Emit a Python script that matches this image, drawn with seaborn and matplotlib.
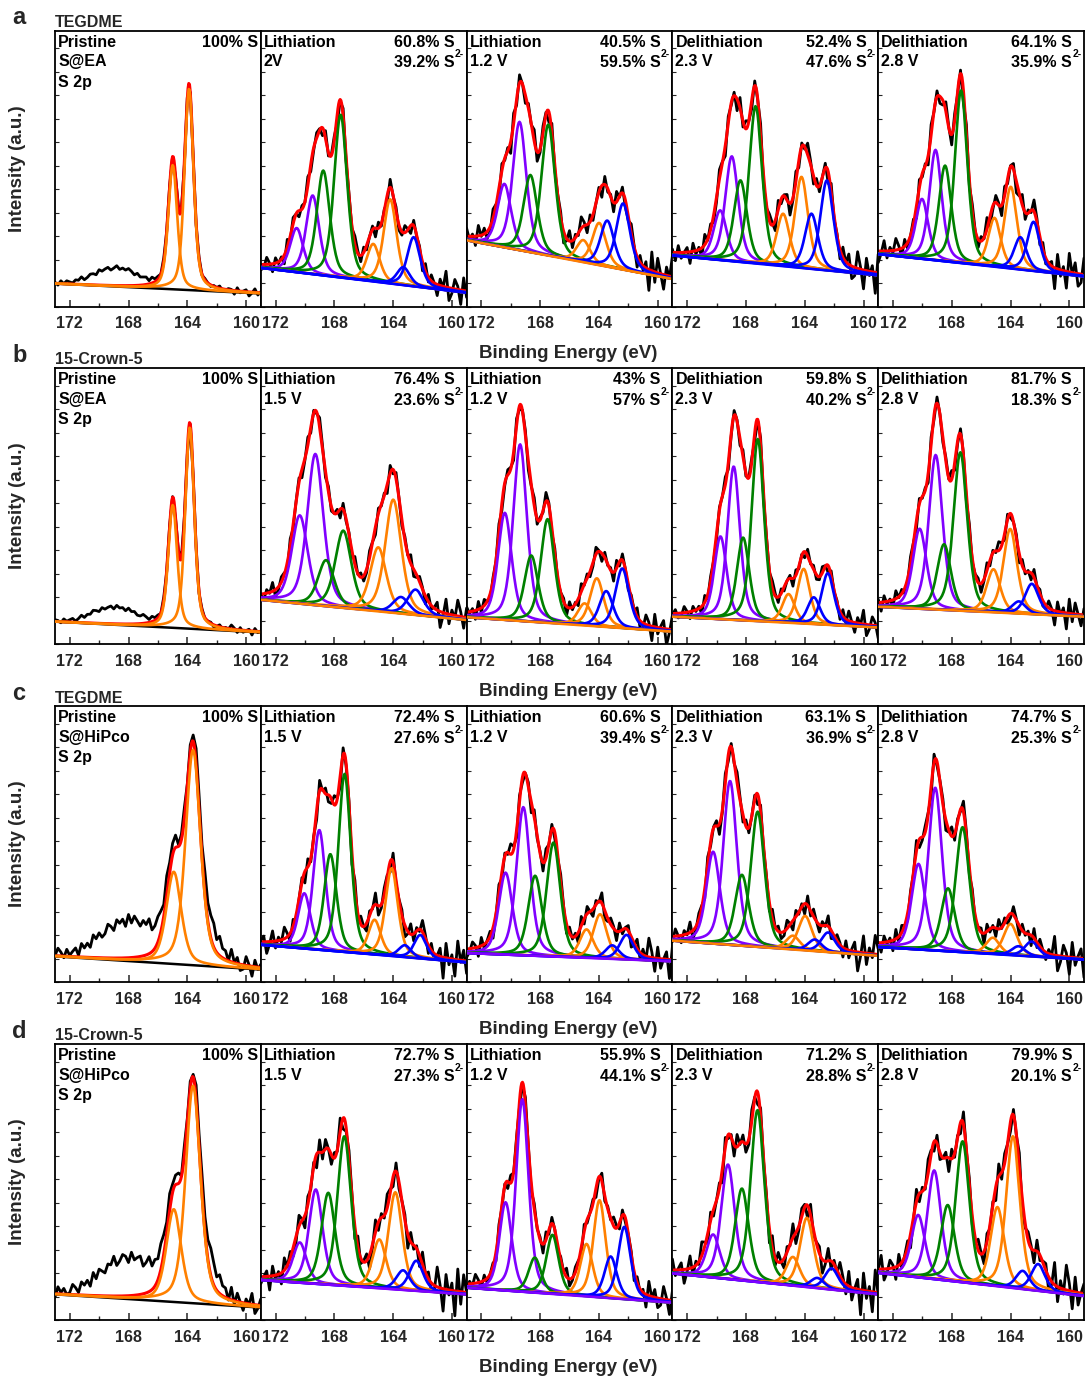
import numpy as np
import matplotlib
matplotlib.use('Agg')
import matplotlib.pyplot as plt
import seaborn as sns
from matplotlib.ticker import FixedLocator, MultipleLocator

# binding energy grids (eV): fine one for the fits, measured step for the raw spectra
energy = np.round(np.arange(159.0, 173.001, 0.05), 3)
energy_raw = np.round(np.arange(159.0, 173.001, 0.2), 2)

PURPLE, GREEN, ORANGE, BLUE, RED = '#8000FF', '#008000', '#FF8000', '#0000FF', '#FF0000'
comp_colors = [PURPLE, PURPLE, GREEN, GREEN, ORANGE, ORANGE, BLUE, BLUE]

row_letters = ['a', 'b', 'c', 'd']
electrolytes = ['TEGDME', '15-Crown-5', 'TEGDME', '15-Crown-5']
hosts = ['S@EA', 'S@EA', 'S@HiPco', 'S@HiPco']
stages = ['Lithiation', 'Lithiation', 'Delithiation', 'Delithiation']
voltages = [['2V', '1.2 V', '2.3 V', '2.8 V'],
            ['1.5 V', '1.2 V', '2.3 V', '2.8 V'],
            ['1.5 V', '1.2 V', '2.3 V', '2.8 V'],
            ['1.5 V', '1.2 V', '2.3 V', '2.8 V']]
s_pct = [['60.8', '40.5', '52.4', '64.1'],
         ['76.4', '43', '59.8', '81.7'],
         ['72.4', '60.6', '63.1', '74.7'],
         ['72.7', '55.9', '71.2', '79.9']]
s2_pct = [['39.2', '59.5', '47.6', '35.9'],
          ['23.6', '57', '40.2', '18.3'],
          ['27.6', '39.4', '36.9', '25.3'],
          ['27.3', '44.1', '28.8', '20.1']]

# pristine S 2p doublet (S 2p1/2, S 2p3/2)
pristine_centers = [[164.99, 163.88], [164.99, 163.83], [164.92, 163.61], [164.92, 163.61]]
pristine_heights = [[45, 73], [44.5, 73], [33.4, 78], [33.6, 78.8]]
pristine_fwhm = [0.72, 0.72, 1.2, 1.2]
pristine_bg = [(8.3, 4.7), (8.1, 4.2), (9.3, 4.5), (9.3, 4.5)]
# unfitted features in the measured pristine spectra (center, height, fwhm)
pristine_hump = [(168.9, 6.5, 3.5), (168.95, 6.2, 3.5), (168.0, 13.7, 4.5), (168.0, 14.0, 4.5)]
pristine_tail = [(162.4, 0, 1.6), (162.4, 0, 1.6), (162.4, 8, 1.6), (162.4, 8, 1.6)]

# cycled electrodes: components purple x2, green x2, orange x2, blue x2
centers = [
    [[170.56, 169.47, 168.75, 167.57, 165.35, 164.2, 163.3, 162.6],
     [170.43, 169.4, 168.66, 167.44, 165.06, 163.98, 163.43, 162.35],
     [169.75, 168.96, 168.37, 167.34, 165.47, 164.22, 163.54, 162.49],
     [170.02, 169.1, 168.45, 167.36, 165.09, 163.98, 163.33, 162.43]],
    [[170.35, 169.29, 168.56, 167.39, 165.01, 163.99, 163.46, 162.47],
     [170.4, 169.36, 168.6, 167.49, 164.97, 164.14, 163.5, 162.41],
     [169.73, 168.83, 168.19, 167.19, 165.1, 164.07, 163.38, 162.43],
     [170.18, 169.09, 168.52, 167.41, 165.16, 164.02, 163.43, 162.55]],
    [[170.04, 169.02, 168.27, 167.3, 165.26, 164.1, 163.2, 162.15],
     [170.35, 169.14, 168.34, 167.09, 164.84, 163.92, 163.09, 162.12],
     [170.23, 169.08, 168.27, 167.2, 164.8, 163.97, 163.31, 162.41],
     [170.26, 169.12, 168.25, 167.26, 165.2, 164.0, 163.45, 162.57]],
    [[170.35, 169.26, 168.41, 167.32, 164.94, 163.85, 163.32, 162.42],
     [170.35, 169.21, 168.36, 167.16, 164.84, 163.96, 163.2, 162.27],
     [170.23, 169.22, 168.27, 167.21, 164.8, 163.85, 163.14, 162.17],
     [170.28, 169.19, 168.27, 167.26, 164.89, 163.83, 163.17, 162.12]]]
heights = [
    [[16, 28.5, 38, 59, 13.6, 30.5, 6.5, 17.8],
     [23, 46.5, 28, 47.5, 8, 15.3, 16.7, 24],
     [18, 38, 29.6, 57, 19, 33, 20, 32.6],
     [21.7, 40, 34.7, 62.6, 17.7, 29.6, 11.7, 17.8]],
    [[32, 54.8, 16.7, 28, 23.2, 41, 6, 9.2],
     [38.8, 64, 24, 37.6, 8, 17.4, 13, 21.6],
     [30, 55.6, 30, 66, 10.4, 19.8, 9.7, 18.7],
     [29, 56, 23.8, 57.4, 15.6, 30.5, 4.4, 11]],
    [[20, 43.4, 35, 64.5, 12.6, 31.8, 4.3, 8.5],
     [29.7, 53.7, 29, 41.3, 10.3, 16, 4.9, 8.9],
     [33.3, 59.4, 25.7, 49, 5, 12.5, 4.2, 7.1],
     [31, 59, 22.8, 45.3, 5.9, 11.3, 3.4, 5.4]],
    [[14.6, 34.2, 33.3, 54.2, 17.7, 35.2, 7.1, 10.9],
     [32, 69.8, 12.7, 21.4, 19, 35.2, 15.1, 26.2],
     [15.6, 41.5, 33.3, 62.3, 10.4, 25.1, 3.7, 7.7],
     [22.6, 39.4, 27.4, 51.1, 28.7, 55, 6.6, 9.7]]]
fwhm = [[1.05, 1.1, 1.05, 1.0],
        [1.3, 1.1, 1.0, 1.1],
        [1.0, 1.1, 1.1, 1.1],
        [1.1, 1.0, 1.1, 1.1]]
backgrounds = [[(14, 5), (24, 10), (18.5, 11.3), (19, 10.9)],
               [(16, 8.7), (9.7, 4.5), (9.9, 6), (13.5, 9.9)],
               [(13.5, 7.1), (10.5, 7.5), (15, 9.5), (12.7, 8.1)],
               [(14.5, 9.3), (11.7, 6.3), (16.9, 9.3), (17.1, 8.7)]]
base_colors = [[BLUE, ORANGE, BLUE, BLUE],
               [ORANGE, ORANGE, ORANGE, ORANGE],
               [BLUE, PURPLE, ORANGE, BLUE],
               [PURPLE, PURPLE, PURPLE, PURPLE]]

# residual of the measured spectra around the fit (scaled per panel)
residual = [0.3, -0.6, 0.9, -0.2, -1.0, 0.5, 0.1, -0.4, 0.8, -0.9, 0.2, 0.6,
            -0.3, -0.8, 1.0, -0.1, 0.4, -0.7, 0.0, 0.7, -0.5, 0.9, -1.0, 0.3,
            -0.2, 0.6, -0.9, 0.1, 0.8, -0.4, -0.6, 0.5, -0.1, 0.9, -0.8, 0.2,
            -0.3, 0.7, -1.0, 0.4, 0.0, -0.5, 0.6, -0.7, 0.3, 1.0, -0.2]
noise_amp = [[0.8, 3.2, 4.2, 4.2, 4.2],
             [0.8, 3.2, 3.2, 2.8, 3.2],
             [2.2, 4.2, 3.8, 3.8, 3.8],
             [2.2, 5.0, 3.2, 5.0, 5.0]]


def voigt(x, c, h, w, eta=0.45):
    d = (x - c) / (w / 2)
    return h * (eta / (1 + d ** 2) + (1 - eta) * np.exp(-np.log(2) * d ** 2))


def linear_bg(x, left, right):
    return right + (left - right) * (x - 159.0) / 14.0


def measured(fit, r, k):
    idx = (np.arange(len(energy_raw)) + 7 * (5 * r + k)) % len(residual)
    res = np.array(residual)[idx]
    boost = np.where(energy_raw < 161.2, 1.8, 1.0)
    return fit + noise_amp[r][k] * res * boost


def style_axis(ax):
    ax.set_xlim(173, 159)
    ax.set_ylim(0, 100)
    ax.xaxis.set_major_locator(FixedLocator([172, 168, 164, 160]))
    ax.xaxis.set_minor_locator(FixedLocator([170, 166, 162]))
    ax.yaxis.set_major_locator(MultipleLocator(8.5))
    ax.tick_params(axis='x', which='major', direction='in', length=5, width=1.1,
                   labelsize=11.5, pad=7)
    ax.tick_params(axis='x', which='minor', direction='in', length=3, width=1.0)
    ax.tick_params(axis='y', which='major', direction='in', length=3, width=0.8,
                   labelleft=False)
    for lab in ax.get_xticklabels():
        lab.set_fontweight('bold')
    for s in ax.spines.values():
        s.set_visible(True)
        s.set_linewidth(1.3)
        s.set_color('black')
    ax.set_xlabel('')
    ax.set_ylabel('')


def line(ax, x, y, color, lw, z):
    sns.lineplot(x=x, y=y, ax=ax, color=color, linewidth=lw, zorder=z,
                 estimator=None, sort=False, legend=False)


sns.set_theme(style='ticks')
plt.rcParams['font.family'] = ['Liberation Sans', 'DejaVu Sans']
plt.rcParams['font.weight'] = 'bold'

W, H = 1085, 1378
fig = plt.figure(figsize=(W / 100, H / 100), dpi=100)
row_top = [30.5, 368, 706, 1044]
ax_h = 276
x0 = 55
ax_w = 205.8
txt = dict(fontsize=11.5, fontweight='bold', color='black')

for r in range(4):
    for k in range(5):
        ax = fig.add_axes([(x0 + k * ax_w) / W, 1 - (row_top[r] + ax_h) / H, ax_w / W, ax_h / H])
        if k == 0:
            bl, br = pristine_bg[r]
            hc, hh, hw = pristine_hump[r]
            tc, th, tw = pristine_tail[r]

            def fit_at(x):
                return linear_bg(x, bl, br) + sum(voigt(x, c, h, pristine_fwhm[r])
                                                  for c, h in zip(pristine_centers[r], pristine_heights[r]))
            raw = fit_at(energy_raw) + voigt(energy_raw, hc, hh, hw, eta=0.0) \
                + voigt(energy_raw, tc, th, tw, eta=0.0)
            bg = linear_bg(energy, bl, br)
            line(ax, energy_raw, measured(raw, r, k), 'black', 2.0, 1)
            line(ax, energy, fit_at(energy), RED, 2.2, 2)
            line(ax, energy, bg, 'black', 1.8, 3)
            for c, h in zip(pristine_centers[r], pristine_heights[r]):
                line(ax, energy, bg + voigt(energy, c, h, pristine_fwhm[r]), ORANGE, 1.9, 4)
            ax.text(0.015, 0.942, 'Pristine', transform=ax.transAxes, ha='left', va='baseline', **txt)
            ax.text(0.015, 0.870, hosts[r], transform=ax.transAxes, ha='left', va='baseline', **txt)
            ax.text(0.015, 0.797, 'S 2p', transform=ax.transAxes, ha='left', va='baseline', **txt)
            ax.text(0.985, 0.942, '100% S', transform=ax.transAxes, ha='right', va='baseline', **txt)
        else:
            j = k - 1
            bl, br = backgrounds[r][j]
            w = fwhm[r][j]

            def fit_at(x):
                return linear_bg(x, bl, br) + sum(voigt(x, c, h, w)
                                                  for c, h in zip(centers[r][j], heights[r][j]))
            bg = linear_bg(energy, bl, br)
            line(ax, energy_raw, measured(fit_at(energy_raw), r, k), 'black', 2.0, 1)
            line(ax, energy, fit_at(energy), RED, 2.2, 2)
            for c, h, col in zip(centers[r][j], heights[r][j], comp_colors):
                line(ax, energy, bg + voigt(energy, c, h, w), col, 1.9, 3)
            line(ax, energy, bg, base_colors[r][j], 1.9, 4)
            ax.text(0.015, 0.942, stages[j], transform=ax.transAxes, ha='left', va='baseline', **txt)
            ax.text(0.015, 0.870, voltages[r][j], transform=ax.transAxes, ha='left', va='baseline', **txt)
            ax.text(0.942, 0.942, s_pct[r][j] + '% S', transform=ax.transAxes,
                    ha='right', va='baseline', **txt)
            ax.text(0.942, 0.866, s2_pct[r][j] + '% S', transform=ax.transAxes,
                    ha='right', va='baseline', **txt)
            ax.text(0.944, 0.903, '2-', transform=ax.transAxes, ha='left', va='baseline',
                    fontsize=7.5, fontweight='bold', color='black')
        style_axis(ax)

    top = row_top[r]
    fig.text(12 / W, 1 - (top - 6) / H, row_letters[r], fontsize=17, fontweight='bold', ha='left', va='baseline')
    fig.text(x0 / W, 1 - (top - 3.5) / H, electrolytes[r], fontsize=11.5, fontweight='bold', ha='left', va='baseline')
    fig.text(18 / W, 1 - (top + ax_h / 2) / H, 'Intensity (a.u.)', fontsize=13.5, fontweight='bold',
             rotation=90, ha='center', va='center')
    fig.text(568 / W, 1 - (top + ax_h + 47) / H, 'Binding Energy (eV)', fontsize=13.5, fontweight='bold',
             ha='center', va='center')

fig.savefig('out.png', dpi=100)
